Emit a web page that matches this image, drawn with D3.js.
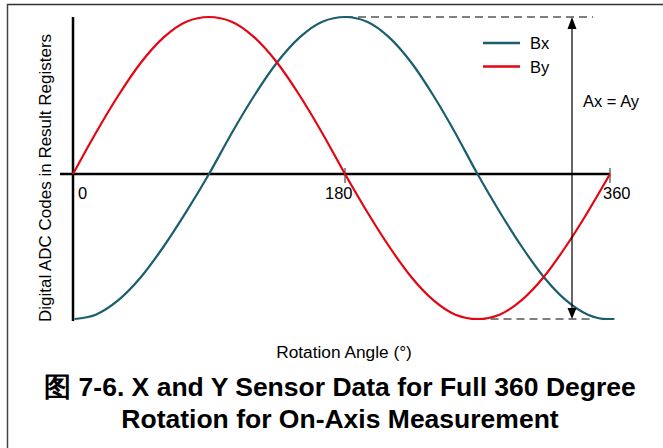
<!DOCTYPE html>
<html>
<head>
<meta charset="utf-8">
<script src="https://cdn.jsdelivr.net/npm/d3@7"></script>
<style>
body{margin:0;background:#fff;}
text{font-family:"Liberation Sans",Arial,sans-serif;}
</style>
</head>
<body>
<svg id="chart" width="663" height="448"></svg>
<script>
// angle samples (deg) and normalised readings
var angles = [0,15,30,45,60,75,90,105,120,135,150,165,180,195,210,225,240,255,270,285,300,315,330,345,360];
var byVals = [0,0.26,0.5,0.71,0.87,0.97,1,0.97,0.87,0.71,0.5,0.26,0,-0.26,-0.5,-0.71,-0.87,-0.97,-1,-0.97,-0.87,-0.71,-0.5,-0.26,0];
var bxAngles = [1,15,30,45,60,75,90,105,120,135,150,165,180,195,210,225,240,255,270,285,300,315,330,345,358,363];
var bxVals = [-1,-0.97,-0.87,-0.71,-0.5,-0.26,0,0.26,0.5,0.71,0.87,0.97,1,0.97,0.87,0.71,0.5,0.26,0,-0.26,-0.5,-0.71,-0.87,-0.97,-1,-1];
var tickVals = [0,180,360];
var seriesNames = ["Bx","By"];
var seriesColors = ["#1a5e6d","#e30613"];

var svg = d3.select("#chart");

var x = d3.scaleLinear().domain([0,180,360]).range([73,345,610]);
var y = d3.scaleLinear().domain([-1,0,1]).range([319,174,17]);

// frame
svg.append("line").attr("x1",7).attr("x2",663).attr("y1",4.5).attr("y2",4.5)
	.attr("stroke","#333").attr("stroke-width",1.5);
svg.append("line").attr("x1",7.5).attr("x2",7.5).attr("y1",4).attr("y2",448)
	.attr("stroke","#444").attr("stroke-width",1.5);

// dashed amplitude guides
svg.append("line").attr("x1",x(180)).attr("x2",593).attr("y1",y(1)).attr("y2",y(1))
	.attr("stroke","#000").attr("stroke-width",1).attr("stroke-dasharray","8,5");
svg.append("line").attr("x1",x(270)).attr("x2",593).attr("y1",y(-1)).attr("y2",y(-1))
	.attr("stroke","#000").attr("stroke-width",1).attr("stroke-dasharray","8,5");

// axes
svg.append("line").attr("x1",x(0)).attr("x2",x(0)).attr("y1",17).attr("y2",321)
	.attr("stroke","#000").attr("stroke-width",2.5);
svg.append("line").attr("x1",60).attr("x2",x(360)).attr("y1",y(0)).attr("y2",y(0))
	.attr("stroke","#000").attr("stroke-width",2.5);
svg.selectAll("line.tick").data(tickVals.slice(1)).enter().append("line")
	.attr("class","tick")
	.attr("x1",function(d){return x(d);}).attr("x2",function(d){return x(d);})
	.attr("y1",y(0)-6).attr("y2",y(0)+9)
	.attr("stroke","#555").attr("stroke-width",1.3);
var tickDx = [5,-20,-7];
svg.selectAll("text.tl").data(tickVals).enter().append("text")
	.attr("class","tl")
	.attr("x",function(d,i){return x(d)+tickDx[i];})
	.attr("y",199)
	.attr("font-size","16.5px")
	.text(function(d){return d;});

// curves
var line = d3.line().curve(d3.curveMonotoneX)
	.x(function(d){return x(d[0]);})
	.y(function(d){return y(d[1]);});
var bxData = bxAngles.map(function(a,i){return [a,bxVals[i]];});
var byData = angles.map(function(a,i){return [a,byVals[i]];});
svg.append("path").datum(bxData).attr("d",line)
	.attr("fill","none").attr("stroke",seriesColors[0]).attr("stroke-width",2.2);
svg.append("path").datum(byData).attr("d",line)
	.attr("fill","none").attr("stroke",seriesColors[1]).attr("stroke-width",2.2);

// amplitude arrow
var ax = 572;
svg.append("line").attr("x1",ax).attr("x2",ax).attr("y1",y(1)+10).attr("y2",y(-1)-10)
	.attr("stroke","#000").attr("stroke-width",1.2);
svg.append("path").attr("d","M"+ax+","+y(1)+"L"+(ax-4.5)+","+(y(1)+12)+"L"+(ax+4.5)+","+(y(1)+12)+"Z");
svg.append("path").attr("d","M"+ax+","+y(-1)+"L"+(ax-4.5)+","+(y(-1)-11)+"L"+(ax+4.5)+","+(y(-1)-11)+"Z");
svg.append("text").attr("x",583).attr("y",107).attr("font-size","16.5px").text("Ax = Ay");

// legend
var leg = svg.selectAll("g.leg").data(seriesNames).enter().append("g")
	.attr("class","leg")
	.attr("transform",function(d,i){return "translate(483,"+(43+i*23.5)+")";});
leg.append("line").attr("x1",0).attr("x2",37).attr("y1",0).attr("y2",0)
	.attr("stroke",function(d,i){return seriesColors[i];}).attr("stroke-width",2.5);
leg.append("text").attr("x",47).attr("y",6).attr("font-size","16.5px").text(function(d){return d;});

// axis titles
svg.append("text").attr("transform","translate(51,178) rotate(-90)")
	.attr("text-anchor","middle").attr("font-size","17px")
	.text("Digital ADC Codes in Result Registers");
svg.append("text").attr("x",344).attr("y",358).attr("text-anchor","middle")
	.attr("font-size","17.3px").text("Rotation Angle (°)");

// caption
var cap = svg.append("text").attr("text-anchor","middle").attr("font-weight","bold")
	.attr("font-size","26.5px");
cap.append("tspan").attr("x",340).attr("y",396).text("图 7-6. X and Y Sensor Data for Full 360 Degree");
cap.append("tspan").attr("x",340).attr("y",428).text("Rotation for On-Axis Measurement");
</script>
</body>
</html>
